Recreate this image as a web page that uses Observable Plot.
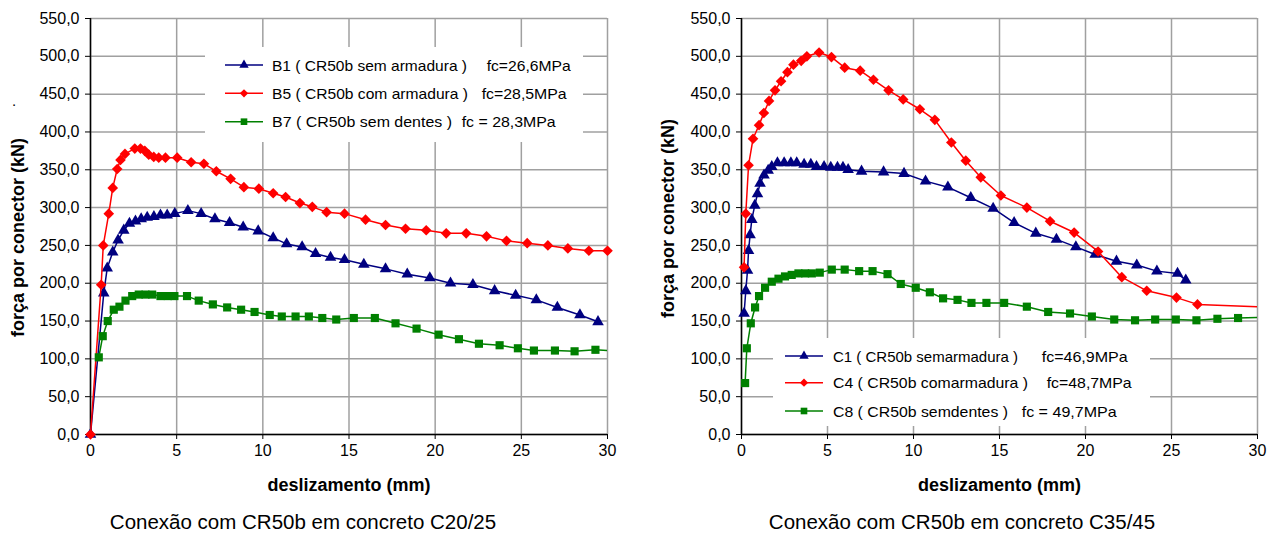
<!DOCTYPE html>
<html>
<head>
<meta charset="utf-8">
<script src="https://cdn.jsdelivr.net/npm/d3@7"></script>
<script src="https://cdn.jsdelivr.net/npm/@observablehq/plot@0.6"></script>
<style>
  body { margin: 0; background: #fff; font-family: "Liberation Sans", Arial, sans-serif; }
  #wrap { position: relative; width: 1278px; height: 533px; overflow: hidden; background: #fff; }
  .chart { position: absolute; top: 0; }
  g[aria-label="x-axis label"] { font-weight: bold; font-size: 18px; }
  .caption { position: absolute; font-size: 20.5px; white-space: nowrap; transform: translateX(-50%); color: #000; }
</style>
</head>
<body>
<div id="wrap"></div>
<script>
// ---------- data ----------
const xTicks = [0, 5, 10, 15, 20, 25, 30];
const yTicks = [0, 50, 100, 150, 200, 250, 300, 350, 400, 450, 500, 550];

// Left chart: Conexão com CR50b em concreto C20/25  [deslizamento (mm), força (kN)]
const b1 = [[0,0],[0.77,187],[0.97,220],[1.29,241],[1.6,257],[1.93,270],[2.26,279],[2.61,282],[2.94,285],[3.29,287],[3.68,288],[4.06,290],[4.45,290],[4.89,292],[5.65,296],[6.42,292],[7.22,285],[8.07,280],[8.86,274],[9.73,269],[10.6,260],[11.38,252],[12.28,248],[13.06,239],[13.93,234],[14.74,231],[15.86,225],[17.12,219],[18.38,212],[19.69,207],[20.89,200],[22.19,198],[23.45,190],[24.67,184],[25.87,178],[27.09,168],[28.4,158],[29.45,149]];
const b5 = [[0,0],[0.62,198],[0.74,250],[1.06,292],[1.29,326],[1.55,351],[1.74,363],[2.0,371],[2.57,378],[2.9,378],[3.15,375],[3.38,370],[3.67,367],[3.96,366],[4.35,366],[5.03,366],[5.84,360],[6.58,358],[7.3,348],[8.13,338],[8.9,327],[9.77,325],[10.6,319],[11.32,314],[12.15,306],[12.87,301],[13.7,294],[14.74,292],[15.96,284],[17.12,277],[18.28,272],[19.48,270],[20.64,266],[21.8,266],[22.98,262],[24.14,256],[25.34,253],[26.54,250],[27.7,246],[28.92,243],[30,243]];
const b7 = [[0.48,102],[0.71,130],[1.0,150],[1.35,165],[1.68,169],[2.03,177],[2.42,183],[2.8,185],[3.19,185],[3.58,185],[4.06,183],[4.49,183],[4.87,183],[5.6,183],[6.28,177],[7.1,172],[7.93,168],[8.74,165],[9.52,162],[10.4,158],[11.1,156],[11.9,156],[12.67,156],[13.45,154],[14.26,152],[15.28,154],[16.5,154],[17.7,147],[18.92,140],[20.2,132],[21.38,126],[22.54,120],[23.74,118],[24.8,114],[25.73,111],[26.95,111],[28.09,110],[29.3,112],[31,110]];

// Right chart: Conexão com CR50b em concreto C35/45
const c1 = [[0.15,160],[0.25,190],[0.35,217],[0.41,243],[0.5,264],[0.6,284],[0.77,303],[0.93,318],[1.08,332],[1.31,343],[1.55,349],[1.76,354],[2.09,359],[2.48,359],[2.87,359],[3.21,359],[3.64,357],[4.03,357],[4.36,354],[4.8,354],[5.19,353],[5.58,353],[5.9,353],[6.2,350],[6.98,348],[8.26,347],[9.45,345],[10.7,335],[12.0,327],[13.33,313],[14.63,299],[15.85,280],[17.11,266],[18.31,258],[19.44,248],[20.56,238],[21.8,229],[22.98,224],[24.15,216],[25.35,213],[25.83,204]];
const c4 = [[0.15,221],[0.25,292],[0.41,356],[0.67,391],[1.02,409],[1.3,425],[1.6,441],[1.95,455],[2.3,467],[2.67,479],[3.02,489],[3.47,494],[3.8,500],[4.51,505],[5.23,499],[6.0,485],[6.9,481],[7.67,469],[8.55,455],[9.4,443],[10.37,430],[11.24,416],[12.2,386],[13.04,362],[13.91,340],[15.08,316],[16.59,300],[17.94,282],[19.34,267],[20.73,242],[22.11,208],[23.56,190],[25.29,181],[26.51,172],[31,168]];
const c8 = [[0.21,68],[0.31,114],[0.54,147],[0.79,168],[1.02,183],[1.37,194],[1.76,202],[2.15,206],[2.53,209],[2.92,211],[3.31,213],[3.7,213],[4.09,213],[4.55,214],[5.25,218],[6.0,218],[6.84,216],[7.62,216],[8.49,212],[9.26,199],[10.13,194],[10.95,188],[11.72,180],[12.56,178],[13.37,174],[14.24,174],[15.27,174],[16.59,169],[17.83,162],[19.1,160],[20.37,156],[21.67,152],[22.88,151],[24.05,152],[25.25,152],[26.45,151],[27.67,153],[28.87,154],[31,155.5]];

const legendLeftNames = ["B1 ( CR50b sem armadura )", "B5 ( CR50b com armadura )", "B7 ( CR50b sem dentes )"];
const legendLeftFc = ["fc=26,6MPa", "fc=28,5MPa", "fc = 28,3MPa"];
const legendRightNames = ["C1 ( CR50b semarmadura )", "C4 ( CR50b comarmadura )", "C8 ( CR50b semdentes )"];
const legendRightFc = ["fc=46,9MPa", "fc=48,7MPa", "fc = 49,7MPa"];

const xLabel = "deslizamento (mm)";
const yLabel = "força por conector (kN)";
const captions = ["Conexão com CR50b em concreto C20/25", "Conexão com CR50b em concreto C35/45"];

// ---------- styles ----------
const NAVY = "#000080", RED = "#ff0000", GREEN = "#008000", GRID = "#a0a0a0";
const seriesStyle = [
  {color: NAVY, symbol: "triangle", r: 4.3},
  {color: RED, symbol: "diamond2", r: 4.8},
  {color: GREEN, symbol: "square", r: 4.6}
];
const fmtY = d => d.toFixed(1).replace(".", ",");

function chart(seriesData, o) {
  const marks = [
    Plot.gridY(yTicks, {stroke: GRID, strokeOpacity: 1, strokeWidth: 1.5}),
    Plot.gridX(xTicks, {stroke: GRID, strokeOpacity: 1, strokeWidth: 1.5}),
    Plot.axisY(yTicks, {tickSize: 5, tickPadding: 6, tickFormat: fmtY, fontSize: 16, label: null}),
    Plot.axisX(xTicks, {tickSize: 5, tickPadding: 5, fontSize: 16, label: xLabel, labelAnchor: "center", labelArrow: "none", labelOffset: 56}),
    Plot.text([yLabel], {text: d => d, frameAnchor: "left", textAnchor: "middle", lineAnchor: "middle", rotate: -90,
      dx: o.ydx, dy: o.ydy, fontWeight: "bold", fontSize: 18, fill: "#000"}),
    Plot.ruleX([0], {stroke: "#000", strokeWidth: 1.5}),
    Plot.ruleY([0], {stroke: "#000", strokeWidth: 1.5})
  ];
  seriesData.forEach((data, i) => {
    const s = seriesStyle[i];
    marks.push(Plot.line(data, {x: d => d[0], y: d => d[1], stroke: s.color, strokeWidth: 1.5, clip: true}));
    marks.push(Plot.dot(data.filter(d => d[0] <= 30.2), {x: d => d[0], y: d => d[1], symbol: s.symbol, r: s.r, fill: s.color, stroke: "none"}));
  });
  return Plot.plot({
    width: o.width, height: 500,
    marginLeft: o.ml, marginRight: o.mr, marginTop: 18, marginBottom: 66,
    style: {fontFamily: '"Liberation Sans", Arial, sans-serif', fontSize: "16px", color: "#000", background: "transparent", overflow: "visible"},
    x: {domain: [0, 30]},
    y: {domain: [0, 550]},
    marks
  });
}

const wrap = document.getElementById("wrap");
const left = chart([b1, b5, b7], {width: 640, ml: 90, mr: 33, ydx: -72, ydy: 11});
left.classList.add("chart"); left.style.left = "0px";
wrap.appendChild(left);
const right = chart([c1, c4, c8], {width: 638, ml: 101, mr: 21, ydx: -73, ydy: -8});
right.classList.add("chart"); right.style.left = "640px";
wrap.appendChild(right);

// ---------- legends (inside plot area, white boxes) ----------
const ov = d3.select(wrap).append("svg")
  .attr("width", 1278).attr("height", 533)
  .style("position", "absolute").style("left", "0px").style("top", "0px")
  .style("font-family", '"Liberation Sans", Arial, sans-serif').style("font-size", "15px");

const symType = {triangle: d3.symbolTriangle, diamond2: d3.symbolDiamond2, square: d3.symbolSquare};
function legend(L, names, fcs) {
  ov.append("rect").attr("x", L.x).attr("y", L.y).attr("width", L.w).attr("height", L.h).attr("fill", "#fff");
  names.forEach((name, i) => {
    const s = seriesStyle[i], y = L.rows[i];
    ov.append("line").attr("x1", L.s0).attr("x2", L.s1).attr("y1", y).attr("y2", y).attr("stroke", s.color).attr("stroke-width", 1.5);
    ov.append("path").attr("d", d3.symbol(symType[s.symbol], s.symbol === "triangle" ? 38 : 44)())
      .attr("transform", `translate(${(L.s0 + L.s1) / 2},${y})`).attr("fill", s.color);
    ov.append("text").attr("x", L.tx).attr("y", y + 5.5).text(name)
      .attr("textLength", L.nw[i]).attr("lengthAdjust", "spacingAndGlyphs");
    ov.append("text").attr("x", L.fx[i]).attr("y", y + 5.5).text(fcs[i])
      .attr("textLength", L.fw[i]).attr("lengthAdjust", "spacingAndGlyphs");
  });
}
legend({x: 205, y: 47, w: 378, h: 95, s0: 225, s1: 263, tx: 272, rows: [65, 93.3, 121.7],
        nw: [195, 196, 180], fx: [486.7, 481.7, 461.7], fw: [84, 85, 94]}, legendLeftNames, legendLeftFc);
legend({x: 773, y: 338, w: 377, h: 88, s0: 785, s1: 823, tx: 833, rows: [356, 382.7, 411],
        nw: [185, 195, 175], fx: [1041.7, 1046.7, 1021.7], fw: [86, 85, 95]}, legendRightNames, legendRightFc);

// stray dot near the left y label in the original
ov.append("text").attr("x", 12).attr("y", 106).attr("font-size", 15).text(".");

// ---------- captions ----------
[[303, captions[0]], [962, captions[1]]].forEach(([cx, t]) => {
  const d = document.createElement("div");
  d.className = "caption"; d.style.left = cx + "px"; d.style.top = "510px";
  d.textContent = t; wrap.appendChild(d);
});
</script>
</body>
</html>
